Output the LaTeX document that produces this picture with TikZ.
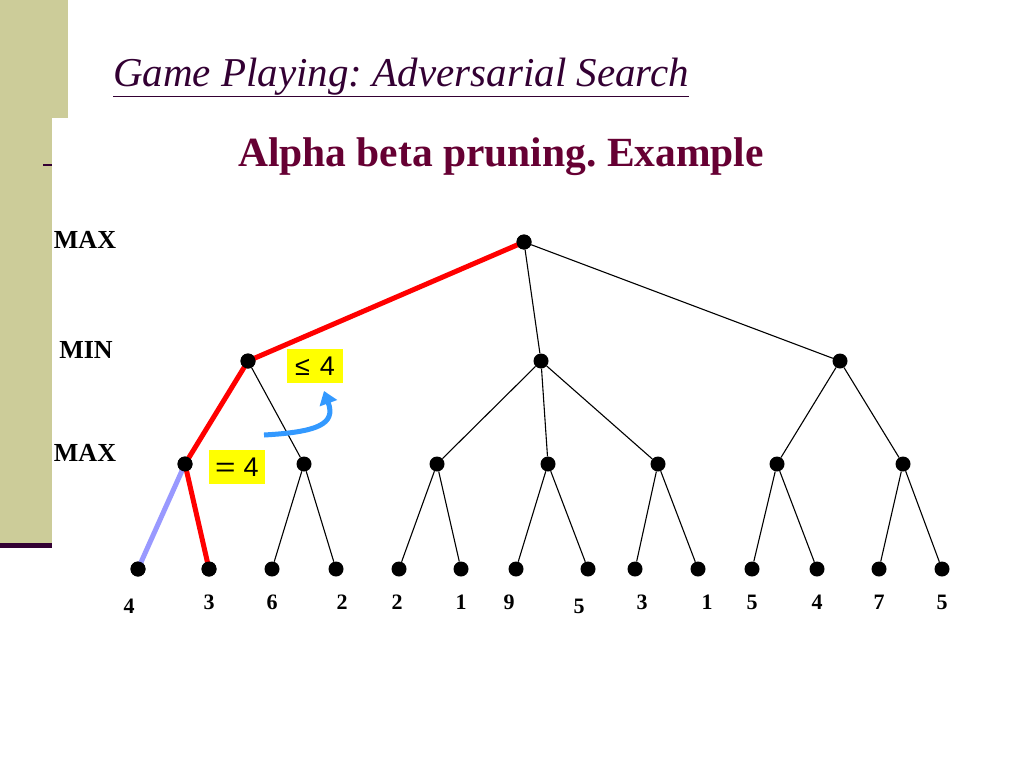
\documentclass[tikz,border=0pt]{standalone}
\usepackage{fontspec}
\setmainfont{Liberation Serif}
\newfontfamily\arialfont{Liberation Sans}
\usetikzlibrary{arrows.meta, positioning, calc}
\definecolor{olive}{RGB}{204, 204, 153}
\definecolor{titlepurple}{RGB}{51, 0, 51}
\definecolor{headmaroon}{RGB}{102, 0, 51}
\definecolor{pathred}{RGB}{255, 0, 0}
\definecolor{prunedblue}{RGB}{153, 153, 255}
\definecolor{arrowblue}{RGB}{51, 153, 255}
\definecolor{notebox}{RGB}{255, 255, 0}
\frenchspacing

\tikzset{
  dot/.style={circle, fill=black, inner sep=0pt, minimum size=15pt},
  edge/.style={black, line width=1.1pt},
  best/.style={pathred, line width=5pt},
  pruned/.style={prunedblue, line width=5pt},
  level/.style={font=\fontsize{26}{26}\selectfont\bfseries},
  leafval/.style={font=\fontsize{22}{22}\selectfont\bfseries},
  bound/.style={fill=notebox, inner sep=0pt, minimum width=56pt, minimum height=34pt, font=\arialfont\fontsize{27}{27}\selectfont}
}

\begin{document}
\begin{tikzpicture}[x=1pt, y=-1pt]
        \useasboundingbox (0,0) rectangle (1024,768);
        \fill[white] (0,0) rectangle (1024,768);

        % Randleiste
        \fill[olive] (0,0) rectangle (68,118);
        \fill[olive] (0,118) rectangle (52,545);
        \fill[titlepurple] (0,543) rectangle (52,548);
        \fill[titlepurple] (43,164) rectangle (52,166);

        % Titel
        \node[anchor=base west, inner sep=0pt, text=titlepurple,
              font=\fontsize{41}{41}\selectfont\itshape] (title) at (113,86)
              {\underline{Game Playing: Adversarial Search}};
        \node[inner sep=0pt, text=headmaroon, font=\fontsize{41.5}{41.5}\selectfont\bfseries]
              (head) at (501,157) {Alpha beta pruning. Example};

        % Ebenen
        \node[level] (lmax1) at (85,240) {MAX};
        \node[level] (lmin) at (86,350) {MIN};
        \node[level] (lmax2) at (85,453) {MAX};

        % Knoten
        \node[dot] (r) at (524,242) {};
        \node[dot] (A) at (248,361) {};
        \node[dot] (B) at (541,361) {};
        \node[dot] (C) at (840,361) {};
        \foreach \n/\x in {a1/185, a2/304, b1/437, b2/548, b3/658, c1/777, c2/903} {
            \node[dot] (\n) at (\x,464) {};
        }
        \foreach \i/\x in {1/138, 2/209, 3/272, 4/336, 5/399, 6/461, 7/516,
                           8/588, 9/635, 10/698, 11/752, 12/817, 13/879, 14/942} {
            \node[dot] (l\i) at (\x,569) {};
        }
        \foreach \i/\x/\v/\dy in {1/129/4/4, 2/209/3/0, 3/272/6/0, 4/342/2/0, 5/397/2/0,
                                  6/461/1/0, 7/509/9/0, 8/579/5/4, 9/642/3/0, 10/707/1/0,
                                  11/752/5/0, 12/817/4/0, 13/879/7/0, 14/942/5/0} {
            \node[leafval] (v\i) at (\x,602+\dy) {\v};
        }

        % Kanten
        \draw[edge] (r) -- (B);
        \draw[edge] (r) -- (C);
        \draw[edge] (A) -- (a2);
        \draw[edge] (B) -- (b1);
        \draw[edge] (B) -- (b2);
        \draw[edge] (B) -- (b3);
        \draw[edge] (C) -- (c1);
        \draw[edge] (C) -- (c2);
        \draw[edge] (a2) -- (l3);
        \draw[edge] (a2) -- (l4);
        \draw[edge] (b1) -- (l5);
        \draw[edge] (b1) -- (l6);
        \draw[edge] (b2) -- (l7);
        \draw[edge] (b2) -- (l8);
        \draw[edge] (b3) -- (l9);
        \draw[edge] (b3) -- (l10);
        \draw[edge] (c1) -- (l11);
        \draw[edge] (c1) -- (l12);
        \draw[edge] (c2) -- (l13);
        \draw[edge] (c2) -- (l14);
        \draw[pruned] (a1.center) -- (l1.center);
        \draw[best] (r.center) -- (A.center) -- (a1.center) -- (l2.center);
        \node[dot] at (r) {};
        \node[dot] at (A) {};
        \node[dot] at (a1) {};
        \node[dot] at (l1) {};
        \node[dot] at (l2) {};

        % Schranken
        \node[bound] (le) at (315,366) {≤\hspace{10pt}4};
        \node[bound] (eq) at (237,467) {\scalebox{1.3}[1]{=}\hspace{8pt}4};

        % Pfeil
        \coordinate (arrS) at (264,435);
        \coordinate (arrE) at (324,391);
        \draw[arrowblue, line width=5pt, -{Triangle[length=13pt, width=18pt]}]
             (arrS) .. controls (318,432) and (336,424) .. (arrE);
    \end{tikzpicture}
\end{document}
